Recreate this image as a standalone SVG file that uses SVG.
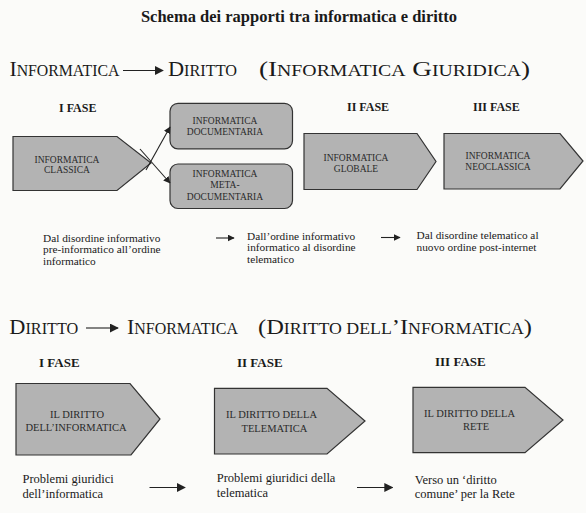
<svg xmlns="http://www.w3.org/2000/svg" width="586" height="513" viewBox="0 0 586 513">
<style>
.t{font-family:"Liberation Serif","Times New Roman",serif;fill:#1a1a1a}
.title{font-size:16.5px;font-weight:bold;text-anchor:middle}
.h{font-size:22px}
.s{font-size:16px}
.fase{font-size:12px;font-weight:bold}
.fase2{font-size:13px;font-weight:bold}
.box{fill:#b3b3b3;stroke:#333;stroke-width:1.2}
.in{font-family:"Liberation Serif","Times New Roman",serif;font-size:9.5px;fill:#2a2a2a;text-anchor:middle}
.in2{font-family:"Liberation Serif","Times New Roman",serif;font-size:10.5px;fill:#2a2a2a;text-anchor:middle}
.d1{font-size:11.3px}
.d2{font-size:12.5px}
.ln{stroke:#222;stroke-width:1.1;fill:none}
</style>
<defs>
<marker id="ah" viewBox="0 0 10 10" refX="9" refY="5" markerWidth="7" markerHeight="7" markerUnits="userSpaceOnUse" orient="auto"><path d="M0,0 L10,5 L0,10 z" fill="#222"/></marker>
<marker id="ahb" viewBox="0 0 10 10" refX="9" refY="5" markerWidth="9" markerHeight="9" markerUnits="userSpaceOnUse" orient="auto"><path d="M0,0 L10,5 L0,10 z" fill="#222"/></marker>
</defs>
<rect width="586" height="513" fill="#fbfbf9"/>
<text class="t title" x="299" y="22">Schema dei rapporti tra informatica e diritto</text>

<g id="heading1">
<text class="t h" x="9.4" y="76" textLength="110" lengthAdjust="spacingAndGlyphs">I<tspan class="s">NFORMATICA</tspan></text>
<text class="t h" x="168" y="76" textLength="69" lengthAdjust="spacingAndGlyphs">D<tspan class="s">IRITTO</tspan></text>
<text class="t h" x="259" y="76" textLength="271" lengthAdjust="spacingAndGlyphs">(I<tspan class="s">NFORMATICA</tspan> G<tspan class="s">IURIDICA</tspan>)</text>
</g>

<text class="t fase" x="59" y="112">I FASE</text>
<text class="t fase" x="347" y="111">II FASE</text>
<text class="t fase" x="473" y="111">III FASE</text>

<g id="n-classica">
<polygon class="box" points="13,136.5 117,136.5 151,163 117,190.5 13,190.5"/>
<text class="in" x="67" y="162.7">INFORMATICA</text>
<text class="in" x="67" y="173.3">CLASSICA</text>
</g>
<g id="n-documentaria">
<rect class="box" x="170" y="103.3" width="122.5" height="45.5" rx="8"/>
<text class="in" x="225" y="124">INFORMATICA</text>
<text class="in" x="225" y="135">DOCUMENTARIA</text>
</g>
<g id="n-metadoc">
<rect class="box" x="170" y="164" width="122.5" height="44.5" rx="8"/>
<text class="in" x="225" y="177.3">INFORMATICA</text>
<text class="in" x="225" y="188.3">META-</text>
<text class="in" x="225" y="200">DOCUMENTARIA</text>
</g>
<g id="n-globale">
<polygon class="box" points="304,133.5 417,133.5 436,161.5 417,189.5 304,189.5"/>
<text class="in" x="356" y="160.7">INFORMATICA</text>
<text class="in" x="356" y="171.7">GLOBALE</text>
</g>
<g id="n-neoclassica">
<polygon class="box" points="444,133.5 560,133.5 583,161 560,189 444,189"/>
<text class="in" x="498" y="158.5">INFORMATICA</text>
<text class="in" x="498" y="169.5">NEOCLASSICA</text>
</g>

<g id="desc1">
<text class="t d1" x="43" y="241.5"><tspan x="43">Dal disordine informativo</tspan><tspan x="43" dy="11.8">pre-informatico all’ordine</tspan><tspan x="43" dy="11.8">informatico</tspan></text>
<text class="t d1" x="247" y="239.5"><tspan x="247">Dall’ordine informativo</tspan><tspan x="247" dy="11.6">informatico al disordine</tspan><tspan x="247" dy="11.6">telematico</tspan></text>
<text class="t d1" x="416.5" y="239"><tspan x="416.5">Dal disordine telematico al</tspan><tspan x="416.5" dy="11.6">nuovo ordine post-internet</tspan></text>
</g>

<g id="heading2">
<text class="t h" x="9.3" y="333.5" textLength="69" lengthAdjust="spacingAndGlyphs">D<tspan class="s">IRITTO</tspan></text>
<text class="t h" x="127" y="333.5" textLength="111" lengthAdjust="spacingAndGlyphs">I<tspan class="s">NFORMATICA</tspan></text>
<text class="t h" x="258" y="333.5" textLength="274" lengthAdjust="spacingAndGlyphs">(D<tspan class="s">IRITTO DELL</tspan>’I<tspan class="s">NFORMATICA</tspan>)</text>
</g>

<text class="t fase2" x="39" y="367">I FASE</text>
<text class="t fase2" x="237" y="367">II FASE</text>
<text class="t fase2" x="435" y="365.5">III FASE</text>

<g id="n-dir-informatica">
<polygon class="box" points="16,383.5 130,383.5 160,419 131,455 16,455"/>
<text class="in2" x="77" y="417.7">IL DIRITTO</text>
<text class="in2" x="76" y="430.5">DELL’INFORMATICA</text>
</g>
<g id="n-dir-telematica">
<polygon class="box" points="214.5,388.3 327,388.3 365,421 327,454 214.5,454"/>
<text class="in2" x="271.5" y="418.3">IL DIRITTO DELLA</text>
<text class="in2" x="274.5" y="431.7">TELEMATICA</text>
</g>
<g id="n-dir-rete">
<polygon class="box" points="413,387.3 525,387.3 563,420 525,452.7 413,452.7"/>
<text class="in2" x="469.5" y="416.7">IL DIRITTO DELLA</text>
<text class="in2" x="476" y="430">RETE</text>
</g>

<g id="desc2">
<text class="t d2" x="22.5" y="483"><tspan x="22.5">Problemi giuridici</tspan><tspan x="22.5" dy="14.5">dell’informatica</tspan></text>
<text class="t d2" x="216.7" y="482"><tspan x="216.7">Problemi giuridici della</tspan><tspan x="216.7" dy="15">telematica</tspan></text>
<text class="t d2" x="414.8" y="483.5"><tspan x="414.8">Verso un ‘diritto</tspan><tspan x="414.8" dy="14">comune’ per la  Rete</tspan></text>
</g>

<g id="connectors">
<line class="ln" x1="123" y1="70.5" x2="163" y2="70.5" marker-end="url(#ahb)"/>
<line class="ln" x1="86" y1="328" x2="118" y2="328" marker-end="url(#ahb)"/>
<line class="ln" x1="146" y1="170" x2="170" y2="127" marker-end="url(#ah)"/>
<line class="ln" x1="140" y1="149" x2="170" y2="183" marker-end="url(#ah)"/>
<line class="ln" x1="216" y1="238" x2="234" y2="238" marker-end="url(#ah)"/>
<line class="ln" x1="381" y1="237.5" x2="400" y2="237.5" marker-end="url(#ah)"/>
<line class="ln" x1="149.5" y1="487.5" x2="185" y2="487.5" marker-end="url(#ahb)"/>
<line class="ln" x1="357" y1="487.5" x2="392.4" y2="487.5" marker-end="url(#ahb)"/>
</g>
</svg>
